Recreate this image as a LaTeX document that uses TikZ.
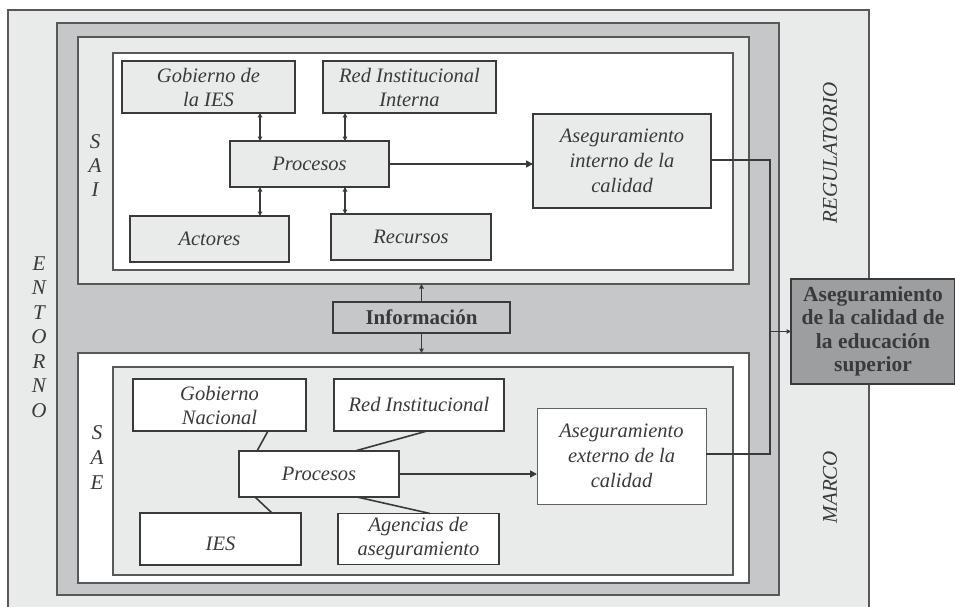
\documentclass[tikz,border=0pt]{standalone}
\usepackage{fontspec}
\setmainfont{Liberation Serif}
\usetikzlibrary{arrows.meta}
\definecolor{lgray}{HTML}{E9EAEA}
\definecolor{mgray}{HTML}{C6C7C9}
\definecolor{dgray}{HTML}{9D9EA0}
\definecolor{ink}{HTML}{3A3A3A}
\begin{document}
\begin{tikzpicture}[x=1pt,y=-1pt,
  cont/.style={draw=ink!85, line width=1.3pt, inner sep=0pt, outer sep=0pt},
  bx/.style={draw=ink, line width=1.8pt, inner sep=2pt, outer sep=0pt, align=center,
    text=ink, font=\fontsize{20.5}{24}\selectfont\itshape},
  lbl/.style={text=ink, align=center, inner sep=0pt},
  dbl/.style={draw=ink, line width=1.6pt, {Triangle[length=4.5pt,width=4.5pt]}-{Triangle[length=4.5pt,width=4.5pt]}},
  arr/.style={draw=ink, line width=1.6pt, -{Triangle[length=7pt,width=7pt]}},
  ln/.style={draw=ink, line width=1.6pt},
  sarr/.style={draw=ink, line width=1.4pt, -{Triangle[length=4.5pt,width=4.5pt]}}]
\useasboundingbox (0,0) rectangle (955,607);
\clip (0,0) rectangle (955,607);
% containers
\node[cont, fill=lgray, minimum width=861, minimum height=610] (outer) at (438.5,315) {};
\node[cont, fill=mgray, minimum width=722, minimum height=572] (dark) at (418,309) {};
\node[cont, fill=lgray, minimum width=671, minimum height=247] (saiout) at (413.5,160.5) {};
\node[cont, fill=white, minimum width=620, minimum height=217] (saiin) at (423,161.5) {};
\node[cont, fill=white, minimum width=671, minimum height=230] (saeout) at (413.5,468) {};
\node[cont, fill=lgray, minimum width=620, minimum height=208] (saein) at (423,471) {};
% side labels
\node[lbl, font=\fontsize{21}{24.5}\selectfont\itshape] (entorno) at (39,337) {E\\N\\T\\O\\R\\N\\O};
\node[lbl, font=\fontsize{21}{24}\selectfont\itshape] (sai) at (95,166) {S\\A\\I};
\node[lbl, font=\fontsize{21}{25}\selectfont\itshape] (sae) at (97,458) {S\\A\\E};
\node[lbl, font=\fontsize{21}{24}\selectfont\itshape, rotate=90] (reg) at (830,153) {REGULATORIO};
\node[lbl, font=\fontsize{21}{24}\selectfont\itshape, rotate=90] (marco) at (830,487) {MARCO};
% SAI boxes
\node[bx, fill=lgray, minimum width=173, minimum height=52] (gob) at (208.5,87) {Gobierno de\\la IES};
\node[bx, fill=lgray, minimum width=173, minimum height=52] (red) at (409.5,87) {Red Institucional\\Interna};
\node[bx, fill=lgray, minimum width=159, minimum height=46] (pr1) at (309.5,164) {Procesos};
\node[bx, fill=lgray, minimum width=159, minimum height=46] (act) at (209.5,239) {Actores};
\node[bx, fill=lgray, minimum width=160, minimum height=46] (rec) at (411,237) {Recursos};
\node[bx, fill=lgray, minimum width=178, minimum height=94, font=\fontsize{20.5}{25}\selectfont\itshape] (ai) at (622,161) {Aseguramiento\\interno de la\\calidad};
% SAE boxes
\node[bx, fill=white, minimum width=173, minimum height=52] (gn) at (219.5,405) {Gobierno\\Nacional};
\node[bx, fill=white, minimum width=170, minimum height=52] (ri) at (419,405) {Red Institucional};
\node[bx, fill=white, minimum width=160, minimum height=46] (pr2) at (319,474) {Procesos};
\node[bx, fill=white, minimum width=161, minimum height=52] (ies) at (220.5,539) {\\IES};
\node[bx, fill=white, minimum width=161, minimum height=51] (ag) at (418.5,539) {Agencias de\\aseguramiento};
\node[bx, fill=white, line width=1pt, draw=ink!80, minimum width=169, minimum height=96, font=\fontsize{20.5}{25}\selectfont\itshape] (ae) at (621.5,456) {Aseguramiento\\externo de la\\calidad};
% info and final
\node[bx, fill=mgray, minimum width=177, minimum height=31, font=\fontsize{21}{22}\selectfont\bfseries] (info) at (421.5,317.5) {Información};
\node[bx, fill=dgray, minimum width=164, minimum height=105, font=\fontsize{21.5}{23.5}\selectfont\bfseries] (fin) at (873,331.5) {Aseguramiento\\de la calidad de\\la educación\\superior};
% SAI connectors
\draw[dbl] ([xshift=-49.5]pr1.north) -- ([xshift=-49.5]pr1.north |- gob.south);
\draw[dbl] ([xshift=35.5]pr1.north) -- ([xshift=35.5]pr1.north |- red.south);
\draw[dbl] ([xshift=-49.5]pr1.south) -- ([xshift=-49.5]pr1.south |- act.north);
\draw[dbl] ([xshift=35.5]pr1.south) -- ([xshift=35.5]pr1.south |- rec.north);
\draw[arr] (pr1.east) -- (pr1.east -| ai.west);
% SAE connectors
\draw[ln] ([xshift=48.5]gn.south) -- ([xshift=-62]pr2.north);
\draw[ln] ([xshift=8]ri.south) -- ([xshift=36]pr2.north);
\draw[ln] ([xshift=-64]pr2.south) -- ([xshift=51.5]ies.north);
\draw[ln] ([xshift=38]pr2.south) -- ([xshift=11.5]ag.north);
\draw[arr] (pr2.east) -- (pr2.east -| ae.west);
% information
\draw[sarr] (info.north) -- (info.north |- saiout.south);
\draw[sarr] (info.south) -- (info.south |- saeout.north);
% to final
\coordinate (j) at (770,331.5);
\draw[ln] ([yshift=1]ai.east) -| (j);
\draw[ln] ([yshift=2]ae.east) -| (j);
\draw[sarr] (j) -- (fin.west);
\end{tikzpicture}
\end{document}
